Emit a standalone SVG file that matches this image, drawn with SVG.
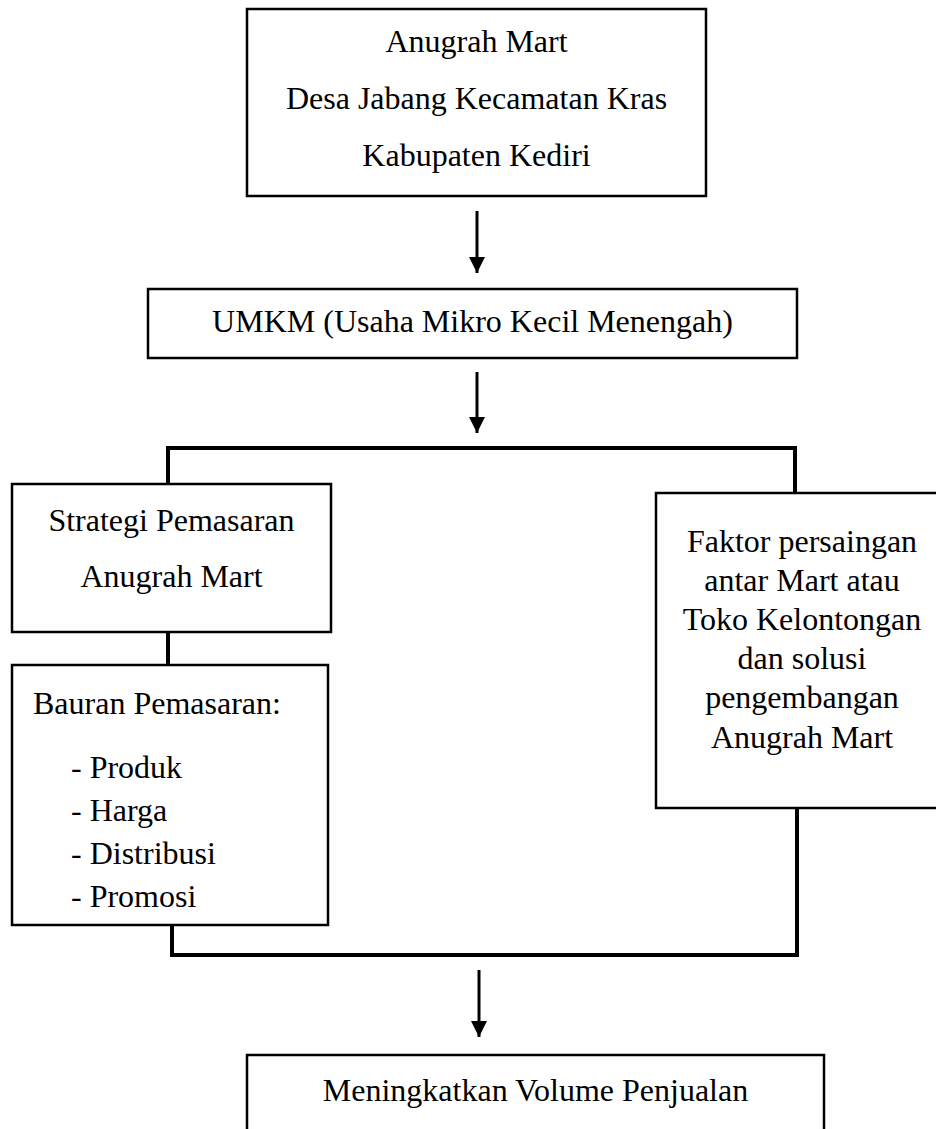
<svg xmlns="http://www.w3.org/2000/svg" width="936" height="1129" viewBox="0 0 936 1129">
<style>
.box{fill:#fff;stroke:#000;stroke-width:2.5}
.t{font-family:"Liberation Serif","Times New Roman",serif;font-size:32px;fill:#000}
.c{text-anchor:middle}
.link{fill:none;stroke:#000;stroke-width:4}
.arr{fill:none;stroke:#000;stroke-width:3}
</style>
<defs>
<marker id="ah" markerUnits="userSpaceOnUse" markerWidth="16" markerHeight="16" viewBox="0 0 16 16" refX="16" refY="8" orient="auto">
<path d="M0,0 L16,8 L0,16 Z" fill="#000"/>
</marker>
</defs>
<g id="connectors">
<line class="arr" x1="477" y1="211" x2="477" y2="273" marker-end="url(#ah)"/>
<line class="arr" x1="477" y1="372" x2="477" y2="433" marker-end="url(#ah)"/>
<polyline class="link" points="168,484 168,448 795,448 795,493"/>
<line class="link" x1="168" y1="632" x2="168" y2="665"/>
<polyline class="link" points="172,925 172,955 797,955 797,808"/>
<line class="arr" x1="479" y1="970" x2="479" y2="1037" marker-end="url(#ah)"/>
</g>
<g id="node-anugrah">
<rect class="box" x="247" y="9" width="459" height="187"/>
<text class="t c" x="476.5" y="52">Anugrah Mart</text>
<text class="t c" x="476.5" y="109">Desa Jabang Kecamatan Kras</text>
<text class="t c" x="476.5" y="166">Kabupaten Kediri</text>
</g>
<g id="node-umkm">
<rect class="box" x="148" y="289" width="649" height="69"/>
<text class="t c" x="472.5" y="332">UMKM (Usaha Mikro Kecil Menengah)</text>
</g>
<g id="node-strategi">
<rect class="box" x="12" y="484" width="319" height="148"/>
<text class="t c" x="171.5" y="531">Strategi Pemasaran</text>
<text class="t c" x="171.5" y="587">Anugrah Mart</text>
</g>
<g id="node-bauran">
<rect class="box" x="12" y="665" width="316" height="260"/>
<text class="t" x="33" y="714">Bauran Pemasaran:</text>
<text class="t" x="71" y="778">- Produk</text>
<text class="t" x="71" y="821">- Harga</text>
<text class="t" x="71" y="864">- Distribusi</text>
<text class="t" x="71" y="907">- Promosi</text>
</g>
<g id="node-faktor">
<rect class="box" x="656" y="493" width="290" height="315"/>
<text class="t c" x="802" y="552">Faktor persaingan</text>
<text class="t c" x="802" y="591">antar Mart atau</text>
<text class="t c" x="802" y="630">Toko Kelontongan</text>
<text class="t c" x="802" y="669">dan solusi</text>
<text class="t c" x="802" y="708">pengembangan</text>
<text class="t c" x="802" y="748">Anugrah Mart</text>
</g>
<g id="node-volume">
<rect class="box" x="247" y="1055" width="577" height="100"/>
<text class="t c" x="535.5" y="1101">Meningkatkan Volume Penjualan</text>
</g>
</svg>
